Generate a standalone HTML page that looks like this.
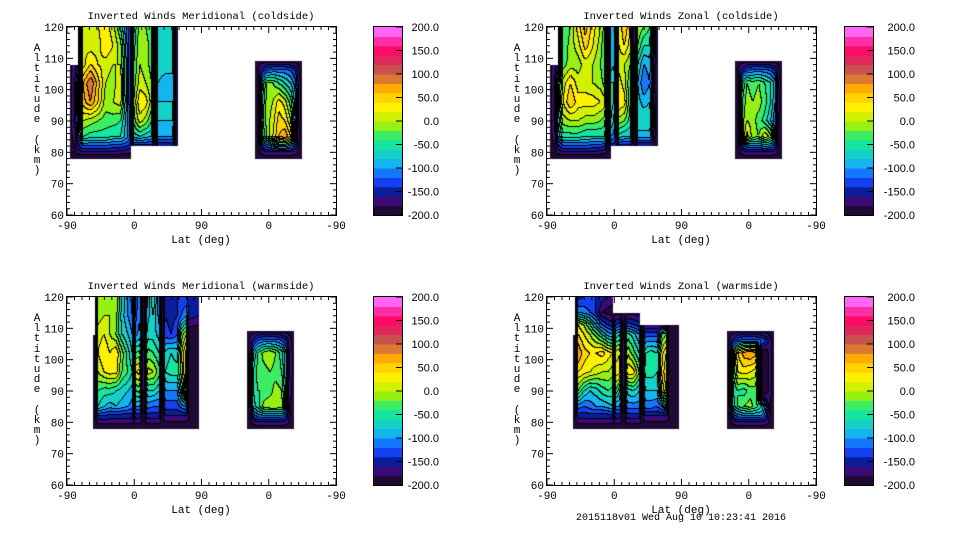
<!DOCTYPE html>
<html><head><meta charset="utf-8">
<style>
body{margin:0;background:#fff;width:960px;height:540px;overflow:hidden;position:relative;font-family:"Liberation Mono",monospace;font-size:10px;color:#000}
.panel{position:absolute;width:480px;height:270px}
canvas{position:absolute;left:67px;top:27px}
svg{position:absolute;left:0;top:0}
.ylab{position:absolute;left:32px;top:44px;width:10px;text-align:center;line-height:10.2px;font-size:11px}
#footer{position:absolute;left:576px;top:513px;font-size:10px}
</style></head>
<body>
<div id="footer">2015118v01 Wed Aug 10 10:23:41 2016</div>
<script>
var N=null;
var titles=["Inverted Winds Meridional (coldside)","Inverted Winds Zonal (coldside)","Inverted Winds Meridional (warmside)","Inverted Winds Zonal (warmside)"];
var xTickLabels=["-90","0","90","0","-90"];
var yTickLabels=[60,70,80,90,100,110,120];
var cbarLabels=["200.0","150.0","100.0","50.0","0.0","-50.0","-100.0","-150.0","-200.0"];
var bandColors=["#1e0a32","#3c0a78","#0a1e9b","#1440f0","#1478ff","#14b4f0","#14d2c8","#14e6a0","#3cec64","#96f014","#d2f000","#fff000","#ffd200","#ffaa00","#dc7830","#c8504f","#e0285a","#ff0a64","#ff2ea8","#ff66f5"];

var altsA=[120,114,108,102,96,90,85,82,80,78];
var altsB=[109,106,102,96,90,85,82,80,78];
var altsC=[120,115,111,108,102,96,90,85,82,80,78];
var latsP1L=[4,11,15,22,32,42,52,62,72,82,86,88,90,98,106,114,118,122,132,142,146,149];
var latsP2L=[4,11,15,22,32,42,52,62,72,78,82,86,90,93,95,97,104,112,118,122,130,138,146,149];
var latsP3L=[35,38,42,50,58,66,74,82,88,90,92,98,103,108,116,124,128,132,140,148,154,160,164,177];
var latsRa=[252,256,262,268,276,284,292,300,306,310,314];
var latsRb=[241,245,250,256,264,272,280,288,294,298,304];

var valsP1L=[
[N,N,-190,10,10,20,30,10,-40,-110,-150,-200,-60,-10,-20,-40,-200,-60,-60,-70,-190,-200],
[N,N,-190,20,10,10,40,20,-10,-110,-150,-200,-50,0,-10,-30,-200,-70,-70,-80,-190,-200],
[-190,-170,-150,10,40,20,10,0,0,-100,-150,-200,-40,0,-10,-30,-200,-70,-70,-80,-190,-200],
[-190,-160,-100,60,100,50,0,-10,20,-110,-150,-200,-30,10,0,-20,-200,-80,-90,-80,-190,-200],
[-190,-160,-100,50,80,40,-10,0,10,-100,-150,-200,-20,40,30,-10,-200,-80,-80,-80,-190,-200],
[-190,-160,-110,0,-10,-20,-30,-30,-40,-100,-140,-200,-30,10,-10,-40,-200,-80,-80,-80,-190,-200],
[-190,-170,-120,-40,-50,-50,-50,-60,-60,-100,-130,-200,-70,-60,-70,-80,-200,-100,-100,-100,-190,-200],
[-195,-180,-150,-120,-120,-120,-120,-130,-130,-140,-150,-200,-150,-150,-150,-150,-200,-160,-160,-160,-195,-200],
[-195,-190,-170,-160,-160,-160,-160,-160,-170,-170,-180,N,N,N,N,N,N,N,N,N,N,N],
[-200,-200,-200,-200,-200,-200,-200,-200,-200,-200,-200,N,N,N,N,N,N,N,N,N,N,N]];
var valsP1R=[
[-190,-190,-190,-190,-190,-190,-190,-190,-190,-190,-190],
[-190,-180,-150,-120,-110,-110,-110,-120,-140,-170,-190],
[-190,-200,-80,-20,-20,-40,-60,-80,-110,-160,-190],
[-190,-200,-60,-10,0,30,10,-30,-90,-160,-190],
[-190,-200,-50,-10,10,50,40,0,-80,-160,-190],
[-190,-200,-60,-20,20,60,80,40,-80,-170,-190],
[-190,-190,-130,-110,-90,-60,-60,-90,-140,-180,-190],
[-190,-190,-170,-160,-160,-160,-160,-160,-170,-185,-190],
[-195,-195,-195,-195,-195,-195,-195,-195,-195,-195,-195]];
var valsP2L=[
[N,N,-190,-40,-20,30,70,30,0,-30,-200,-100,-90,-150,-200,20,60,20,-200,0,-20,-40,-190,-200],
[N,N,-190,-40,-10,10,50,20,-10,-40,-200,-100,-90,-150,-200,20,40,10,-200,-20,-60,-60,-190,-200],
[-190,-170,-150,-30,-10,-10,10,0,-20,-40,-200,-90,-80,-140,-200,10,0,-20,-200,-60,-100,-90,-190,-200],
[-190,-160,-80,10,40,10,10,0,-10,-30,-200,-60,-60,-130,-200,30,10,-40,-200,-80,-120,-100,-190,-200],
[-190,-160,-70,20,60,30,30,30,20,10,-200,-50,-60,-130,-200,40,30,-40,-200,-70,-90,-80,-190,-200],
[-190,-160,-80,-10,0,0,-10,-10,-20,-30,-200,-60,-80,-140,-200,-10,-20,-50,-200,-60,-60,-60,-190,-200],
[-190,-170,-100,-50,-50,-50,-60,-60,-60,-60,-200,-100,-110,-140,-200,-70,-80,-80,-200,-90,-90,-90,-190,-200],
[-195,-180,-150,-120,-120,-120,-120,-130,-130,-140,-200,-150,-150,-160,-200,-150,-150,-150,-200,-160,-160,-160,-195,-200],
[-195,-190,-170,-160,-160,-160,-160,-160,-170,-170,-200,-180,N,N,N,N,N,N,N,N,N,N,N,N],
[-200,-200,-200,-200,-200,-200,-200,-200,-200,-200,-200,-200,N,N,N,N,N,N,N,N,N,N,N,N]];
var valsP2R=[
[-190,-190,-190,-190,-190,-190,-190,-190,-190,-190,-190],
[-190,-180,-150,-120,-110,-110,-110,-120,-140,-170,-190],
[-190,-200,-60,-20,-30,-20,-40,-60,-90,-160,-190],
[-190,-200,-40,-10,-20,-10,-30,-60,-100,-170,-190],
[-190,-200,-30,0,-10,-30,-50,-80,-120,-180,-190],
[-190,-200,-30,30,-10,-20,20,-10,-100,-200,-190],
[-190,-190,-130,-110,-100,-100,-90,-100,-140,-180,-190],
[-190,-190,-170,-160,-160,-160,-160,-160,-170,-185,-190],
[-195,-195,-195,-195,-195,-195,-195,-195,-195,-195,-195]];
var valsP3L=[
[N,-190,-10,0,-10,0,-60,-100,-130,-200,-140,-100,-200,-100,-40,-120,-200,-140,-150,-140,-130,-140,-150,-160],
[N,-190,-10,0,0,-10,-70,-100,-120,-200,-130,-100,-200,-90,-60,-110,-200,-140,-150,-140,-120,-100,-150,-160],
[-200,-200,10,20,0,-20,-60,-80,-100,-200,-110,-90,-200,-70,-70,-90,-200,-130,-140,-120,-30,0,-200,-200],
[-200,-200,20,40,20,40,-10,-50,-80,-200,-40,-30,-200,-30,-40,-60,-200,-70,-60,-70,0,50,-200,-200],
[-200,-200,0,20,30,30,-20,-40,-60,-200,20,30,-200,10,0,-30,-200,-60,-50,-50,-10,50,-200,-200],
[-200,-200,-40,-50,-50,-60,-70,-80,-90,-200,-40,-30,-200,-60,-60,-80,-200,-100,-100,-100,-40,40,-200,-200],
[-200,-200,-60,-80,-90,-80,-90,-100,-110,-200,-100,-100,-200,-110,-120,-120,-200,-130,-130,-130,-110,-100,-200,-200],
[-195,-180,-140,-140,-150,-150,-150,-150,-150,-200,-150,-150,-200,-150,-150,-150,-200,-160,-160,-160,-160,-160,-180,-190],
[-195,-190,-170,-170,-170,-170,-170,-170,-170,-190,-170,-170,-190,-170,-170,-170,-190,-180,-180,-180,-180,-180,-190,-195],
[-200,-200,-200,-200,-200,-200,-200,-200,-200,-200,-200,-200,-200,-200,-200,-200,-200,-200,-200,-200,-200,-200,-200,-200]];
var valsP3R=[
[-190,-190,-190,-190,-190,-190,-190,-190,-190,-190,-190],
[-190,-180,-150,-120,-110,-110,-110,-120,-140,-170,-190],
[-190,-170,-80,-40,-10,0,-20,-50,-100,-160,-190],
[-190,-170,-60,-30,-30,-20,-30,-40,-100,-160,-190],
[-190,-170,-60,-40,-40,-30,-10,-20,-90,-170,-190],
[-190,-170,-70,-50,-10,0,0,-10,-100,-180,-190],
[-190,-180,-130,-110,-100,-100,-100,-100,-140,-180,-190],
[-190,-190,-170,-160,-160,-160,-160,-160,-170,-185,-190],
[-195,-195,-195,-195,-195,-195,-195,-195,-195,-195,-195]];
var valsP4L=[
[N,-200,-150,-140,-130,-140,-150,-160,-170,N,N,N,N,N,N,N,N,N,N,N,N,N,N,N],
[N,-200,-100,-110,-120,-140,-180,-190,-190,-200,-190,-190,-200,-190,-190,-190,N,N,N,N,N,N,N,N],
[N,-200,20,0,-40,-80,-120,-140,-150,-200,-140,-130,-200,-130,-140,-150,-200,-180,-180,-180,-180,-180,-190,-190],
[-200,-200,40,20,0,-30,-60,-90,-100,-200,-80,-60,-200,-50,-70,-100,-200,-130,-130,-130,-40,-20,-200,-200],
[-200,-200,80,50,40,40,50,30,20,-200,10,20,-200,0,-30,-60,-200,-60,-50,-60,10,40,-200,-200],
[-200,-200,40,30,20,10,0,0,-10,-200,30,30,-200,40,30,-20,-200,-50,-50,-60,20,60,-200,-200],
[-200,-200,-20,-60,-80,-70,-50,-40,-50,-200,-20,-60,-200,-70,-60,-80,-200,-80,-80,-80,0,40,-200,-200],
[-200,-200,-110,-120,-110,-100,-100,-90,-80,-200,-100,-100,-200,-110,-110,-110,-200,-110,-110,-120,-100,-60,-200,-200],
[-195,-180,-150,-150,-150,-150,-150,-150,-150,-200,-150,-150,-200,-150,-150,-150,-200,-160,-160,-160,-160,-160,-180,-190],
[-195,-190,-170,-170,-170,-170,-170,-170,-170,-190,-170,-170,-190,-170,-170,-170,-190,-180,-180,-180,-180,-180,-190,-195],
[-200,-200,-200,-200,-200,-200,-200,-200,-200,-200,-200,-200,-200,-200,-200,-200,-200,-200,-200,-200,-200,-200,-200,-200]];
var valsP4R=[
[-190,-190,-190,-190,-190,-190,-190,-190,-190,-190,-190],
[-190,-180,-150,-120,-110,-110,-110,-120,-140,-170,-190],
[-200,-170,-40,40,70,80,70,-200,-200,-170,-190],
[-190,-170,-40,20,30,20,10,-200,-200,-170,-190],
[-190,-170,-60,-40,-50,-30,-30,-200,-200,-170,-190],
[-190,-170,-70,-40,-20,-10,-30,-60,-120,-180,-190],
[-190,-180,-130,-110,-100,-100,-100,-100,-140,-180,-190],
[-190,-190,-170,-160,-160,-160,-160,-160,-170,-185,-190],
[-195,-195,-195,-195,-195,-195,-195,-195,-195,-195,-195]];

var panels=[
 {ox:0,oy:0,blocks:[[latsP1L,altsA,valsP1L],[latsRa,altsB,valsP1R]]},
 {ox:480,oy:0,blocks:[[latsP2L,altsA,valsP2L],[latsRa,altsB,valsP2R]]},
 {ox:0,oy:270,blocks:[[latsP3L,altsA,valsP3L],[latsRb,altsB,valsP3R]]},
 {ox:480,oy:270,blocks:[[latsP3L,altsC,valsP4L],[latsRb,altsB,valsP4R]]}
];
var PW=269,PH=188,X0=67,Y0=27;
function xScale(u){return u*PW/360;}
function yScale(a){return (120-a)*PH/60;}
function uOf(px){return px*360/PW;}
function aOf(py){return 120-py*60/PH;}
function hex(c){return [parseInt(c.substr(1,2),16),parseInt(c.substr(3,2),16),parseInt(c.substr(5,2),16)];}
var rgb=bandColors.map(hex);
function sample(b,u,a){
 var U=b[0],A=b[1],V=b[2];
 if(u<U[0]||u>U[U.length-1]||a>A[0]||a<A[A.length-1])return null;
 var i=0;while(i<U.length-2&&u>U[i+1])i++;
 var j=0;while(j<A.length-2&&a<A[j+1])j++;
 var v00=V[j][i],v01=V[j][i+1],v10=V[j+1][i],v11=V[j+1][i+1];
 if(v00===null||v01===null||v10===null||v11===null)return null;
 var tx=(u-U[i])/(U[i+1]-U[i]),ty=(A[j]-a)/(A[j]-A[j+1]);
 return (v00*(1-tx)+v01*tx)*(1-ty)+(v10*(1-tx)+v11*tx)*ty;
}
function band(v){var k=Math.floor((v+200)/20);return Math.max(0,Math.min(19,k));}

var svgNS="http://www.w3.org/2000/svg";
function mk(tag,attrs,parent){var e=document.createElementNS(svgNS,tag);for(var k in attrs)e.setAttribute(k,attrs[k]);parent.appendChild(e);return e;}

panels.forEach(function(p,pi){
 var div=document.createElement('div');div.className='panel';
 div.style.left=p.ox+'px';div.style.top=p.oy+'px';
 
 
 document.body.appendChild(div);
 var cv=document.createElement('canvas');cv.width=PW;cv.height=PH;
 
 
 div.appendChild(cv);
 var ctx=cv.getContext('2d');var img=ctx.createImageData(PW,PH);
 var B=new Int16Array(PW*PH).fill(-1);
 for(var y=0;y<PH;y++)for(var x=0;x<PW;x++){
  var u=uOf(x+0.5),a=aOf(y+0.5),v=null;
  for(var bi=0;bi<p.blocks.length&&v===null;bi++)v=sample(p.blocks[bi],u,a);
  if(v!==null)B[y*PW+x]=band(v);
 }
 for(var y=0;y<PH;y++)for(var x=0;x<PW;x++){
  var k=y*PW+x,b=B[k],o=k*4;
  if(b<0){img.data[o]=255;img.data[o+1]=255;img.data[o+2]=255;img.data[o+3]=255;continue;}
  var line=(x+1<PW&&B[k+1]>=0&&B[k+1]!==b)||(y+1<PH&&B[k+PW]>=0&&B[k+PW]!==b);
  var c=line?[0,0,0]:rgb[b];
  img.data[o]=c[0];img.data[o+1]=c[1];img.data[o+2]=c[2];img.data[o+3]=255;
 }
 ctx.putImageData(img,0,0);

 var svg=document.createElementNS(svgNS,'svg');svg.setAttribute('width',480);svg.setAttribute('height',270);
 
 div.appendChild(svg);
 var t=mk('text',{x:201,y:19,'text-anchor':'middle','font-size':'10.5','font-family':'Liberation Mono, monospace'},svg);t.textContent=titles[pi];
 
 mk('rect',{x:X0-0.5,y:Y0-0.5,width:PW+1,height:PH+1,fill:'none',stroke:'#000','stroke-width':1},svg);
 for(var u=0;u<=360;u+=10){
  var X=X0+xScale(u),L=(u%90===0)?6:3;
  mk('line',{x1:X,y1:Y0+PH,x2:X,y2:Y0+PH-L,stroke:'#000'},svg);
  mk('line',{x1:X,y1:Y0,x2:X,y2:Y0+L,stroke:'#000'},svg);
 }
 xTickLabels.forEach(function(s,i){
  var tl=mk('text',{x:X0+xScale(i*90),y:Y0+PH+14,'text-anchor':'middle','font-size':'11','font-family':'Liberation Mono, monospace'},svg);tl.textContent=s;
  
 });
 for(var a=60;a<=120;a+=2){
  var Y=Y0+yScale(a),L=(a%10===0)?6:3;
  mk('line',{x1:X0,y1:Y,x2:X0+L,y2:Y,stroke:'#000'},svg);
  mk('line',{x1:X0+PW,y1:Y,x2:X0+PW-L,y2:Y,stroke:'#000'},svg);
 }
 yTickLabels.forEach(function(s){
  var tl=mk('text',{x:X0-3,y:Y0+yScale(s)+4,'text-anchor':'end','font-size':'11','font-family':'Liberation Mono, monospace'},svg);tl.textContent=s;
  
 });
 var xl=mk('text',{x:201,y:243,'text-anchor':'middle','font-size':'11','font-family':'Liberation Mono, monospace'},svg);xl.textContent='Lat (deg)';
 
 // colorbar
 var cbx=(pi%2===0)?374:365,cbw=28,labR=(pi%2===0)?439:435;
 bandColors.forEach(function(c,i){
  var r=mk('rect',{x:cbx,y:Y0+PH-(i+1)*PH/20,width:cbw,height:PH/20+0.5,fill:c},svg);
  
 });
 mk('rect',{x:cbx-0.5,y:Y0-0.5,width:cbw+1,height:PH+1,fill:'none',stroke:'#000'},svg);
 cbarLabels.forEach(function(s,i){
  var Y=Y0+i*PH/8;
  mk('line',{x1:cbx+cbw-6,y1:Y,x2:cbx+cbw,y2:Y,stroke:'#000'},svg);
  var tl=mk('text',{x:labR,y:Y+4,'text-anchor':'end','font-size':'11','font-family':'Liberation Sans, sans-serif'},svg);tl.textContent=s;
  
 });
 var yl=document.createElement('div');yl.className='ylab';
 
 yl.innerHTML='A<br>l<br>t<br>i<br>t<br>u<br>d<br>e<br>&nbsp;<br>(<br>k<br>m<br>)';
 div.appendChild(yl);
});
</script>
</body></html>
